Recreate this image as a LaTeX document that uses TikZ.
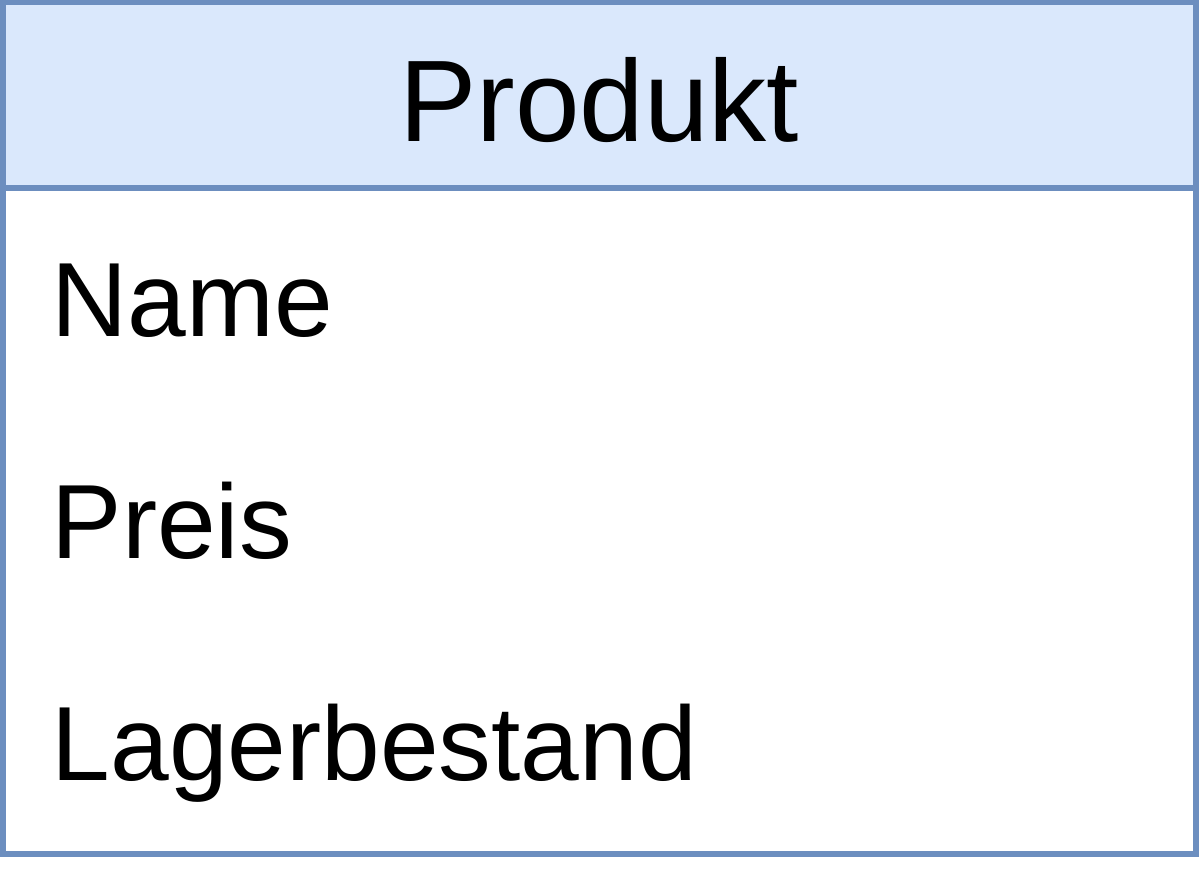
\documentclass[tikz,border=0pt]{standalone}
\usepackage{fontspec}
\setmainfont{Liberation Sans}
\usepackage{tikz}
\usetikzlibrary{positioning}

\definecolor{kopfblau}{HTML}{DAE8FC}
\definecolor{randblau}{HTML}{6C8EBF}

\tikzset{
  umlrand/.style={draw=randblau,line width=1.7pt},
  titel/.style={anchor=base,inner sep=0pt,font=\fontsize{33pt}{40pt}\selectfont},
  attrib/.style={anchor=base west,inner sep=0pt,font=\fontsize{30pt}{36pt}\selectfont}
}

\begin{document}
\begin{tikzpicture}[x=0.01cm,y=-0.01cm]
        \useasboundingbox (0,0) rectangle (1200,880);
        \begin{scope}
          \def\links{3}
          \def\rechts{1196}
          \def\oben{2.5}
          \def\trenn{188}
          \def\unten{854}

          \fill[kopfblau] (\links,\oben) rectangle (\rechts,\trenn);
          \draw[umlrand] (\links,\oben) rectangle (\rechts,\unten);
          \draw[umlrand] (\links,\trenn) -- (\rechts,\trenn);

          \node[titel] (produkt) at (599,142) {Produkt};
          \foreach \attr/\y in {Name/337,Preis/559,Lagerbestand/781} {
            \node[attrib] (\attr) at (51,\y) {\attr};
          }
        \end{scope}
      \end{tikzpicture}
\end{document}
